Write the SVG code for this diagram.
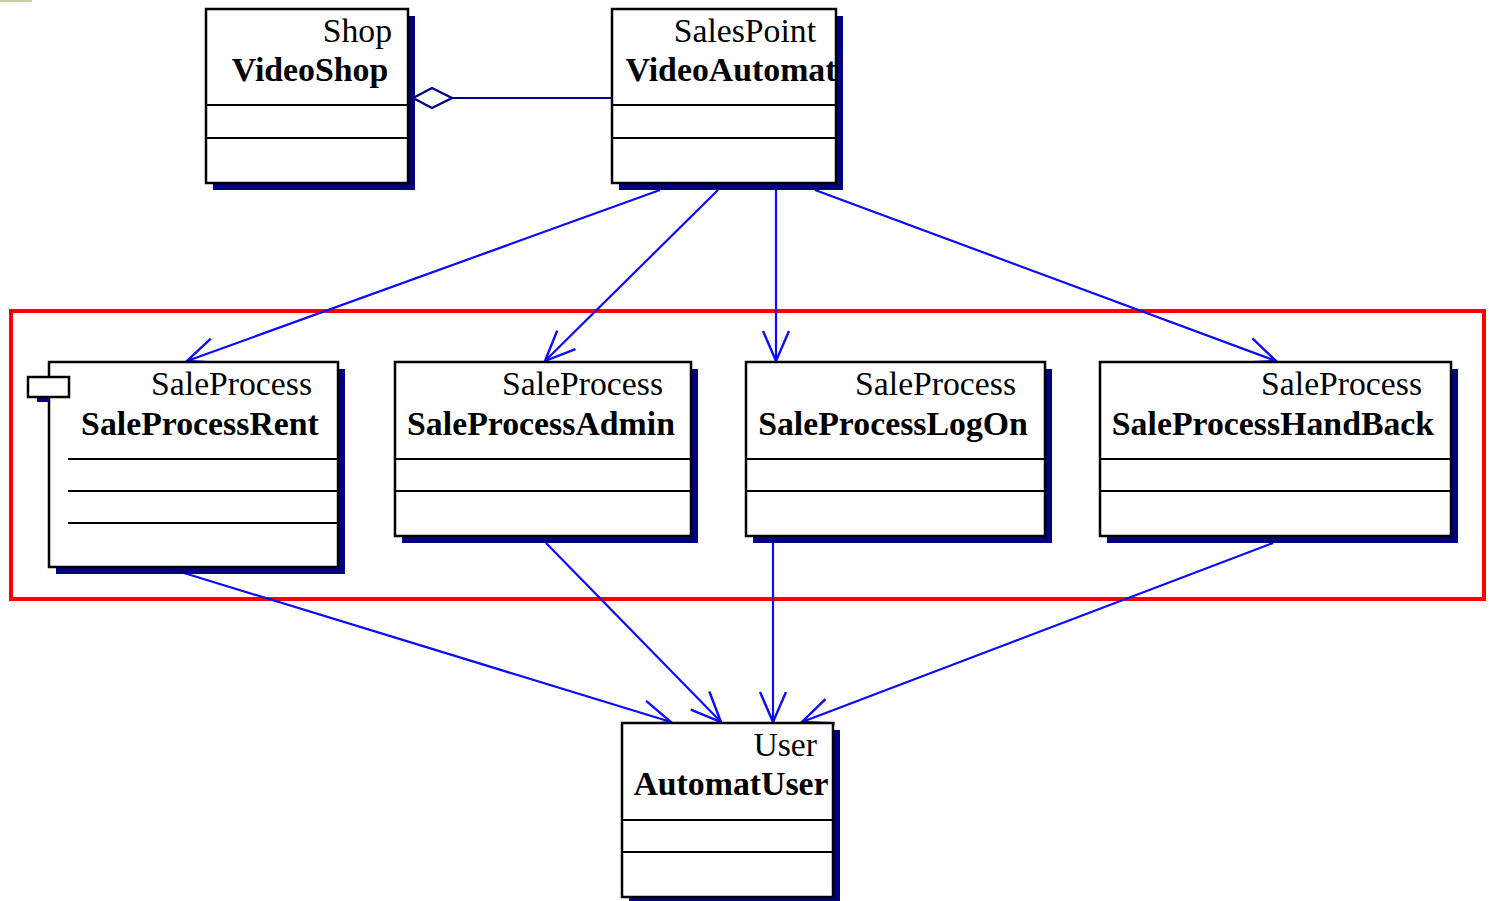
<svg xmlns="http://www.w3.org/2000/svg" width="1489" height="901" viewBox="0 0 1489 901">
<style>
.box{fill:#fff;stroke:#000;stroke-width:2.5}
.sh{fill:#000080}
.div{stroke:#000;stroke-width:2.2}
.st{font-family:"Liberation Serif","Times New Roman",serif;font-size:33.7px;fill:#000;text-anchor:end}
.nm{font-family:"Liberation Serif","Times New Roman",serif;font-size:33.8px;font-weight:bold;fill:#000;text-anchor:middle}
.dep{stroke:#0a0aff;stroke-width:2.2;fill:none;marker-end:url(#open)}
</style>
<defs>
<marker id="open" markerUnits="userSpaceOnUse" markerWidth="40" markerHeight="40" viewBox="-35 -20 40 40" refX="0" refY="0" orient="auto">
<path d="M-30,-13 L0,0 L-30,13" fill="none" stroke="#0a0aff" stroke-width="2.4"/>
</marker>
</defs>
<rect x="0" y="0" width="32" height="2" fill="#cfcba5"/>
<rect x="11" y="311" width="1473" height="288" fill="none" stroke="#ff0000" stroke-width="4"/>
<g id="connectors">
<line class="dep" x1="660" y1="190" x2="187" y2="361"/>
<line class="dep" x1="718" y1="190" x2="545" y2="361"/>
<line class="dep" x1="776" y1="190" x2="776" y2="361"/>
<line class="dep" x1="815" y1="190" x2="1276" y2="361"/>
<line class="dep" x1="184" y1="573" x2="671" y2="722"/>
<line class="dep" x1="546" y1="543" x2="721" y2="722"/>
<line class="dep" x1="773" y1="543" x2="773" y2="722"/>
<line class="dep" x1="1273" y1="543" x2="802" y2="722"/>
<line x1="452" y1="98" x2="612" y2="98" stroke="#000080" stroke-width="2.2"/>
<polygon points="413,98 432,88 452,98 432,108" fill="#fff" stroke="#000080" stroke-width="2.4"/>
</g>
<g id="VideoShop">
<rect class="sh" x="213" y="16" width="202" height="174"/>
<rect class="box" x="206" y="9" width="202" height="174"/>
<line class="div" x1="206" y1="105" x2="408" y2="105"/>
<line class="div" x1="206" y1="138" x2="408" y2="138"/>
<text class="st" x="392" y="42">Shop</text>
<text class="nm" x="310" y="81">VideoShop</text>
</g>
<g id="VideoAutomat">
<rect class="sh" x="619" y="16" width="224" height="174"/>
<rect class="box" x="612" y="9" width="224" height="174"/>
<line class="div" x1="612" y1="105" x2="836" y2="105"/>
<line class="div" x1="612" y1="138" x2="836" y2="138"/>
<text class="st" x="816" y="42">SalesPoint</text>
<text class="nm" x="731" y="81">VideoAutomat</text>
</g>
<g id="SaleProcessRent">
<rect class="sh" x="56" y="369" width="289" height="205"/>
<rect class="box" x="49" y="362" width="289" height="205"/>
<rect class="sh" x="37" y="397" width="12" height="5"/>
<rect class="box" x="28" y="377" width="41" height="20"/>
<line class="div" x1="68" y1="459" x2="338" y2="459"/>
<line class="div" x1="68" y1="491" x2="338" y2="491"/>
<line class="div" x1="68" y1="523" x2="338" y2="523"/>
<text class="st" x="312" y="395">SaleProcess</text>
<text class="nm" x="200" y="435">SaleProcessRent</text>
</g>
<g id="SaleProcessAdmin">
<rect class="sh" x="402" y="369" width="296" height="174"/>
<rect class="box" x="395" y="362" width="296" height="174"/>
<line class="div" x1="395" y1="459" x2="691" y2="459"/>
<line class="div" x1="395" y1="491" x2="691" y2="491"/>
<text class="st" x="663" y="395">SaleProcess</text>
<text class="nm" x="541" y="435">SaleProcessAdmin</text>
</g>
<g id="SaleProcessLogOn">
<rect class="sh" x="753" y="369" width="299" height="174"/>
<rect class="box" x="746" y="362" width="299" height="174"/>
<line class="div" x1="746" y1="459" x2="1045" y2="459"/>
<line class="div" x1="746" y1="491" x2="1045" y2="491"/>
<text class="st" x="1016" y="395">SaleProcess</text>
<text class="nm" x="893" y="435">SaleProcessLogOn</text>
</g>
<g id="SaleProcessHandBack">
<rect class="sh" x="1107" y="369" width="351" height="174"/>
<rect class="box" x="1100" y="362" width="351" height="174"/>
<line class="div" x1="1100" y1="459" x2="1451" y2="459"/>
<line class="div" x1="1100" y1="491" x2="1451" y2="491"/>
<text class="st" x="1422" y="395">SaleProcess</text>
<text class="nm" x="1273" y="435">SaleProcessHandBack</text>
</g>
<g id="AutomatUser">
<rect class="sh" x="629" y="730" width="211" height="174"/>
<rect class="box" x="622" y="723" width="211" height="174"/>
<line class="div" x1="622" y1="820" x2="833" y2="820"/>
<line class="div" x1="622" y1="852" x2="833" y2="852"/>
<text class="st" x="817" y="756">User</text>
<text class="nm" x="731" y="795">AutomatUser</text>
</g>
</svg>
